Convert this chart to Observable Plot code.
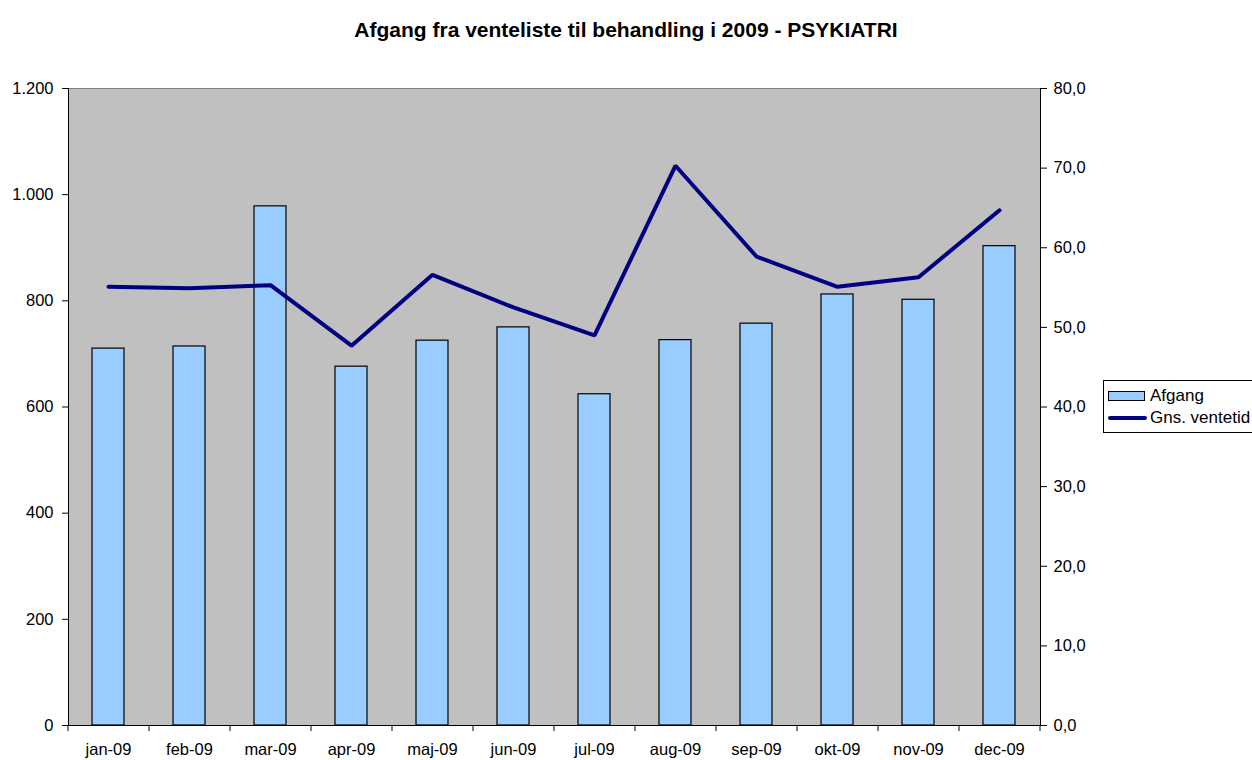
<!DOCTYPE html>
<html>
<head>
<meta charset="utf-8">
<script src="https://cdn.jsdelivr.net/npm/d3@7"></script>
<script src="https://cdn.jsdelivr.net/npm/@observablehq/plot@0.6"></script>
<style>
  html, body { margin: 0; padding: 0; background: #fff; overflow: hidden; }
  #wrap { position: relative; width: 1252px; height: 760px; font-family: "Liberation Sans", Arial, sans-serif; }
  #title { position: absolute; left: 0; width: 1252px; top: 18px; text-align: center; font-weight: bold; font-size: 21px; color: #000; }
  #legend { position: absolute; left: 1103px; top: 380px; width: 170px; height: 51px; border: 1px solid #000; background: #fff; font-size: 17px; color: #000; }
  .li { position: absolute; left: 4px; display: flex; align-items: center; white-space: nowrap; line-height: 20px; }
  .sw1 { width: 35px; height: 8px; background: #99ccff; border: 1px solid #000; margin-right: 5px; }
  .sw2 { width: 39px; height: 4px; background: #000080; border-radius: 2px; margin-right: 3px; }
</style>
</head>
<body>
<div id="wrap">
  <div id="title">Afgang fra venteliste til behandling i 2009 - PSYKIATRI</div>
  <div id="chart"></div>
  <div id="legend">
    <div class="li" style="top:5px"><div class="sw1"></div><span id="lg1"></span></div>
    <div class="li" style="top:27px"><div class="sw2"></div><span id="lg2"></span></div>
  </div>
</div>
<script>
const months = ["jan-09","feb-09","mar-09","apr-09","maj-09","jun-09","jul-09","aug-09","sep-09","okt-09","nov-09","dec-09"];
const afgang = [710, 714, 978, 676, 725, 750, 624, 726, 757, 812, 802, 903];
const ventetid = [55.1, 54.9, 55.3, 47.7, 56.6, 52.5, 49.0, 70.3, 58.9, 55.1, 56.3, 64.7];
const leftTicks = [0, 200, 400, 600, 800, 1000, 1200];
const rightTicks = [0, 10, 20, 30, 40, 50, 60, 70, 80];
const seriesNames = ["Afgang", "Gns. ventetid"];

const leftMax = 1200, rightMax = 80;
const k = leftMax / rightMax;

const data = months.map((m, i) => ({ month: m, afgang: afgang[i], vt: ventetid[i] }));

const W = 1252, H = 760;
const mL = 68, mR = 212, mT = 88, mB = 35;
const step = (W - mL - mR) / months.length;

const fmtLeft = d => d3.format(",")(d).replace(/,/g, ".");
const fmtRight = d => (d / k).toFixed(1).replace(".", ",");

const chart = Plot.plot({
  width: W, height: H,
  marginLeft: mL, marginRight: mR, marginTop: mT, marginBottom: mB,
  style: { fontFamily: "Liberation Sans, Arial, sans-serif", fontSize: "16.5px", color: "#000", background: "#fff" },
  x: { type: "band", domain: months, paddingInner: 0.6, paddingOuter: 0.3, label: null },
  y: { domain: [0, leftMax], label: null },
  marks: [
    Plot.frame({ fill: "#c0c0c0", stroke: "#808080" }),
    Plot.barY(data, { x: "month", y: "afgang", fill: "#99ccff", stroke: "#000", strokeWidth: 1.2 }),
    Plot.line(data, { x: "month", y: d => d.vt * k, stroke: "#000080", strokeWidth: 4, strokeLinecap: "round", strokeLinejoin: "miter" }),
    Plot.ruleY([0], { stroke: "#000" }),
    Plot.frame({ anchor: "left", stroke: "#000" }),
    Plot.frame({ anchor: "right", stroke: "#000" }),
    Plot.ruleX(months, { x: d => d, dx: -step / 2, y1: 0, y2: -leftMax * 6 / (H - mT - mB), stroke: "#000" }),
    Plot.ruleX([months[months.length - 1]], { x: d => d, dx: step / 2, y1: 0, y2: -leftMax * 6 / (H - mT - mB), stroke: "#000" }),
    Plot.axisX({ tickSize: 0, tickPadding: 18, fontSize: 16.5 }),
    Plot.axisY({ anchor: "left", ticks: leftTicks, tickFormat: fmtLeft, tickSize: 6, tickPadding: 9, fontSize: 16.5 }),
    Plot.axisY({ anchor: "right", ticks: rightTicks.map(v => v * k), tickFormat: fmtRight, tickSize: 6, tickPadding: 7, fontSize: 16.5 })
  ]
});
document.getElementById("chart").appendChild(chart);
document.getElementById("lg1").textContent = seriesNames[0];
document.getElementById("lg2").textContent = seriesNames[1];
</script>
</body>
</html>
